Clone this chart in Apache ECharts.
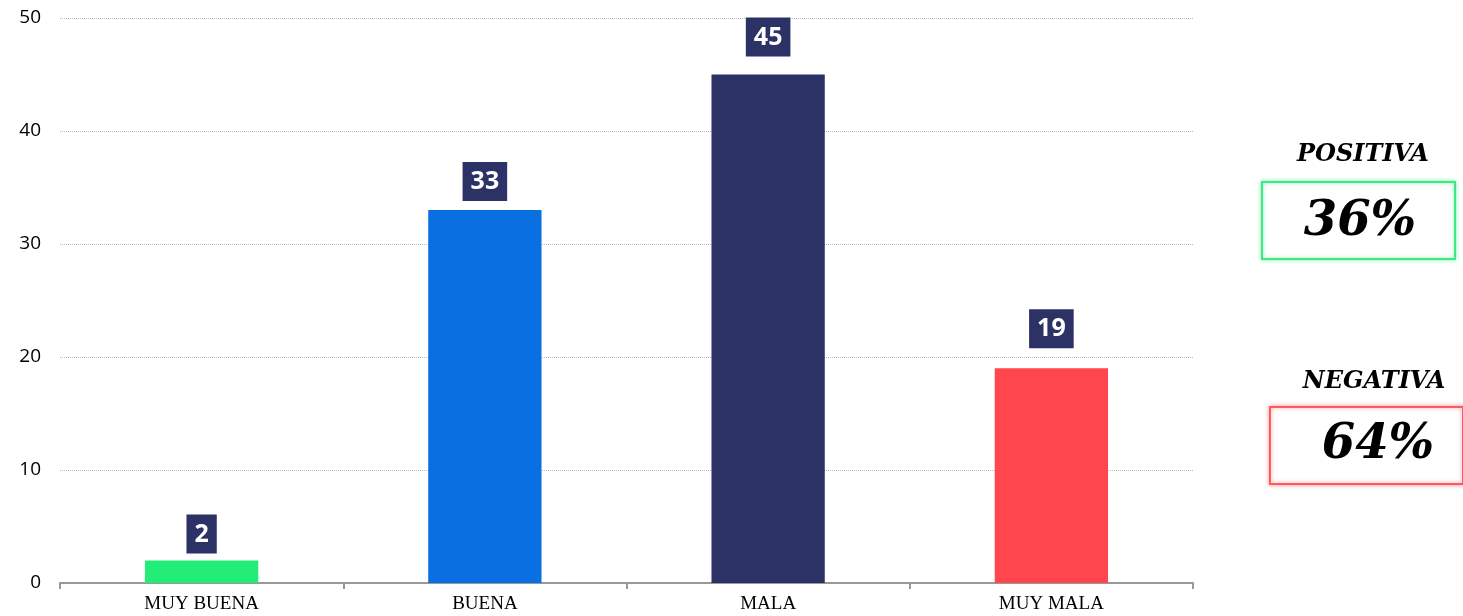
<!DOCTYPE html>
<html>
<head>
<meta charset="utf-8">
<script src="https://cdn.jsdelivr.net/npm/echarts@6/dist/echarts.min.js"></script>
<style>
  html, body { margin: 0; padding: 0; background: #fff; }
  #chart { width: 1463px; height: 616px; }
</style>
</head>
<body>
<div id="chart"></div>
<script>
// datos del grafico
var categorias = ['MUY BUENA', 'BUENA', 'MALA', 'MUY MALA'];
var valores = [2, 33, 45, 19];
var colores = ['#22EE77', '#0A6FE0', '#2C3166', '#FF464F'];
var resumenTitulos = ['POSITIVA', 'NEGATIVA'];
var resumenValores = ['36%', '64%'];

// separacion de cada etiqueta sobre su barra
var distancias = [7, 9, 18, 20];

var chart = echarts.init(document.getElementById('chart'));

var serif = '"Liberation Serif", "Times New Roman", serif';
var serifAncha = '"DejaVu Serif", Georgia, serif';

var option = {
  animation: false,
  grid: { left: 60, right: 270, top: 18, bottom: 33 },
  xAxis: {
    type: 'category',
    data: categorias,
    axisLine: { lineStyle: { color: '#999', width: 2 } },
    axisTick: { show: true, length: 6, lineStyle: { color: '#999', width: 2 } },
    axisLabel: { color: '#000', fontFamily: serif, fontSize: 19, margin: 12 }
  },
  yAxis: {
    type: 'value',
    min: 0,
    max: 50,
    interval: 10,
    axisLine: { show: false },
    axisTick: { show: false },
    axisLabel: { color: '#000', fontFamily: '"Open Sans", sans-serif', fontSize: 19, margin: 19 },
    splitLine: { lineStyle: { color: '#bbb', type: 'dotted', width: 1 } }
  },
  series: [{
    type: 'bar',
    barWidth: '40%',
    data: valores.map(function (v, i) {
      return {
        value: v,
        itemStyle: { color: colores[i] },
        label: { distance: distancias[i] }
      };
    }),
    label: {
      show: true,
      position: 'top',
      color: '#fff',
      fontFamily: '"Open Sans", sans-serif',
      fontWeight: 'bold',
      fontSize: 25,
      lineHeight: 26,
      backgroundColor: '#2C3166',
      padding: [7, 8, 6, 8]
    }
  }],
  graphic: [
    {
      type: 'text', x: 1363, y: 155,
      style: { text: resumenTitulos[0], font: 'italic bold 24px ' + serifAncha, fill: '#000', align: 'center', verticalAlign: 'middle' }
    },
    {
      type: 'rect', shape: { x: 1262, y: 182, width: 193, height: 77 },
      style: { fill: '#fff', stroke: '#3EE882', lineWidth: 2, shadowBlur: 4, shadowColor: 'rgba(62,232,130,0.6)' }
    },
    {
      type: 'text', x: 1360, y: 223,
      style: { text: resumenValores[0], font: 'italic bold 48px ' + serifAncha, fill: '#000', align: 'center', verticalAlign: 'middle' }
    },
    {
      type: 'text', x: 1374, y: 382,
      style: { text: resumenTitulos[1], font: 'italic bold 24px ' + serifAncha, fill: '#000', align: 'center', verticalAlign: 'middle' }
    },
    {
      type: 'rect', shape: { x: 1270, y: 407, width: 193, height: 77 },
      style: { fill: '#fff', stroke: '#FF5A5F', lineWidth: 2, shadowBlur: 4, shadowColor: 'rgba(255,90,95,0.6)' }
    },
    {
      type: 'text', x: 1378, y: 446,
      style: { text: resumenValores[1], font: 'italic bold 48px ' + serifAncha, fill: '#000', align: 'center', verticalAlign: 'middle' }
    }
  ]
};

chart.setOption(option);
</script>
</body>
</html>
